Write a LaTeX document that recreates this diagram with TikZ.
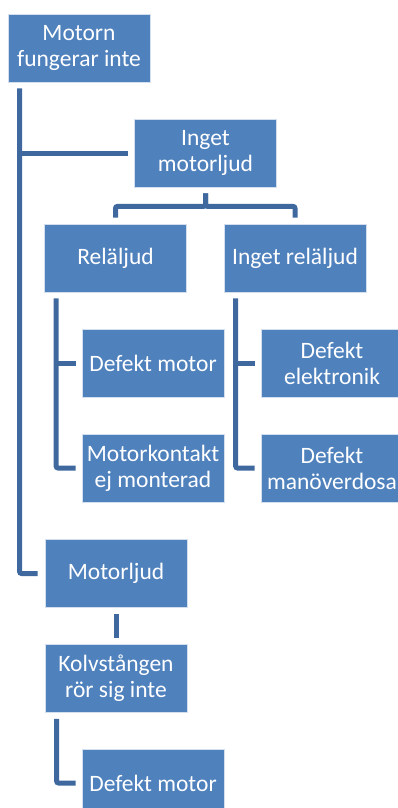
\documentclass[tikz,border=0pt]{standalone}
\usepackage{fontspec}
\setmainfont{Carlito}
\definecolor{boxblue}{RGB}{79,129,189}
\definecolor{lineblue}{RGB}{62,104,158}
\begin{document}
\begin{tikzpicture}[x=1pt,y=-1pt,
  box/.style={rectangle, fill=boxblue, draw=white!75!boxblue, line width=0.8pt,
    minimum width=142pt, minimum height=68pt, inner sep=0pt, align=center,
    text=white, font=\fontsize{23.5}{26}\selectfont},
  conn/.style={draw=lineblue, line width=5pt, rounded corners=2pt}]
\useasboundingbox (0,0) rectangle (398,808);
\clip (0,0) rectangle (398,808);
\node[box] (root) at (79,48) {Motorn\\fungerar inte};
\node[box] (inget) at (205.5,153) {Inget\\motorljud};
\node[box] (rel) at (115.5,258) {Reläljud};
\node[box] (ingetrel) at (295,258) {Inget reläljud};
\node[box] (dm1) at (153,363.5) {Defekt motor};
\node[box] (mk) at (153,468) {Motorkontakt\\ej monterad};
\node[box] (de) at (332,363.5) {Defekt\\elektronik};
\node[box] (dmd) at (332,468) {Defekt\\manöverdosa};
\node[box] (ml) at (116,573.5) {Motorljud};
\node[box] (kolv) at (116,678.5) {Kolvstången\\rör sig inte};
\node[box] (dm2) at (153,783) {Defekt motor};

% root children
\draw[conn, shorten <=6pt, shorten >=7pt] ([xshift=12pt]root.south west) |- (ml.west);
\draw[conn, shorten >=6pt] ([xshift=12pt]root.south west |- inget.west) -- (inget.west);
% inget children
\draw[conn, shorten <=6pt, shorten >=6pt] (inget.south) -- ++(0,19) -| (rel.north);
\draw[conn, shorten <=6pt, shorten >=6pt] (inget.south) -- ++(0,19) -| (ingetrel.north);
% rel children
\draw[conn, shorten <=6pt, shorten >=6pt] ([xshift=12pt]rel.south west) |- (mk.west);
\draw[conn, shorten >=6pt] ([xshift=12pt]rel.south west |- dm1.west) -- (dm1.west);
% ingetrel children
\draw[conn, shorten <=6pt, shorten >=6pt] ([xshift=12pt]ingetrel.south west) |- (dmd.west);
\draw[conn, shorten >=6pt] ([xshift=12pt]ingetrel.south west |- de.west) -- (de.west);
% motorljud chain
\draw[conn, shorten <=6pt, shorten >=6pt] (ml.south) -- (kolv.north);
\draw[conn, shorten <=6pt, shorten >=6pt] ([xshift=12pt]kolv.south west) |- (dm2.west);
\end{tikzpicture}
\end{document}
